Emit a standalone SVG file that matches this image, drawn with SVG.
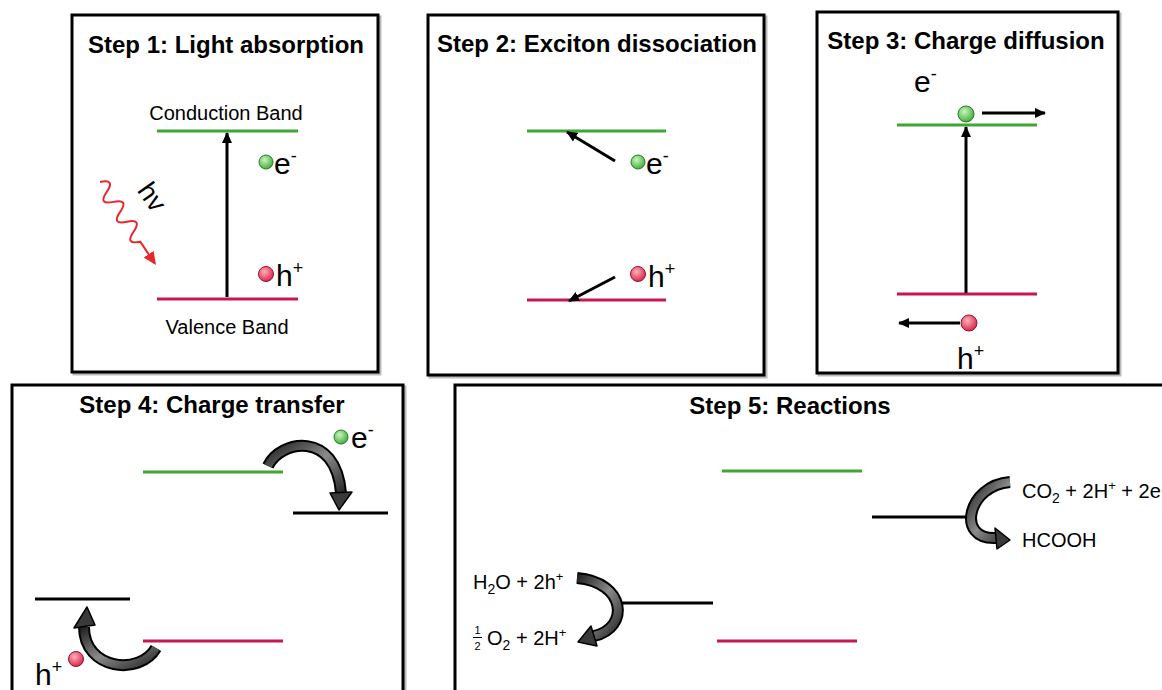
<svg xmlns="http://www.w3.org/2000/svg" width="1162" height="690" viewBox="0 0 1162 690">
<defs>
<style>
.box{fill:#fff;stroke:#000;stroke-width:3}
.shadow{fill:none;stroke:#bbb;stroke-width:3}
.title{font-family:"Liberation Sans",Arial,sans-serif;font-weight:bold;font-size:24px;fill:#000;text-anchor:middle}
.lbl{font-family:"Liberation Sans",Arial,sans-serif;font-size:20px;fill:#000}
.big{font-family:"Liberation Sans",Arial,sans-serif;font-size:30px;fill:#000}
.cb{stroke:#3fa535;stroke-width:3}
.vb{stroke:#c8174f;stroke-width:3}
.lv{stroke:#000;stroke-width:3}
.arr{stroke:#000;stroke-width:3;fill:none}
.fatO{fill:none;stroke:#000;stroke-width:12}
.fatI{fill:none;stroke:url(#fg);stroke-width:8}
.head{fill:#3a3a3a;stroke:#000;stroke-width:1.5;stroke-linejoin:round}
</style>
<radialGradient id="gg" cx="0.4" cy="0.35" r="0.7">
<stop offset="0" stop-color="#c9f7b8"/><stop offset="1" stop-color="#3aa83a"/>
</radialGradient>
<radialGradient id="rg" cx="0.4" cy="0.35" r="0.7">
<stop offset="0" stop-color="#ffb0b8"/><stop offset="1" stop-color="#d41f45"/>
</radialGradient>
<linearGradient id="fg" x1="0" y1="0" x2="1" y2="1">
<stop offset="0" stop-color="#222"/><stop offset="0.5" stop-color="#8a8a8a"/><stop offset="1" stop-color="#2a2a2a"/>
</linearGradient>
<marker id="ah" markerWidth="12" markerHeight="12" refX="10" refY="6" orient="auto" markerUnits="userSpaceOnUse">
<path d="M0,1 L11,6 L0,11 Z" fill="#000"/>
</marker>
<marker id="ahr" markerWidth="14" markerHeight="14" refX="11" refY="7" orient="auto" markerUnits="userSpaceOnUse">
<path d="M0,1 L13,7 L0,13 Z" fill="#e8262b"/>
</marker>
</defs>
<rect width="1162" height="690" fill="#fff"/>

<g id="panel1">
<rect class="shadow" x="74" y="17" width="306" height="357"/>
<rect class="box" x="72" y="15" width="306" height="357"/>
<text class="title" x="226" y="53">Step 1: Light absorption</text>
<text class="lbl" x="226" y="120" text-anchor="middle">Conduction Band</text>
<line class="cb" x1="157" y1="131" x2="298" y2="131"/>
<line class="vb" x1="157" y1="299" x2="298" y2="299"/>
<text class="lbl" x="227" y="334" text-anchor="middle">Valence Band</text>
<circle cx="266" cy="162" r="7" fill="url(#gg)" stroke="#2a7a2a" stroke-width="1"/>
<text class="big" x="274" y="174">e<tspan font-size="18" dy="-12">-</tspan></text>
<circle cx="266" cy="274" r="7.5" fill="url(#rg)" stroke="#9a1030" stroke-width="1"/>
<text class="big" x="276" y="286">h<tspan font-size="18" dy="-12">+</tspan></text>
<text class="lbl" x="152" y="206" text-anchor="middle" style="font-size:27px" transform="rotate(55 152 197)">hv</text>
</g>

<g id="panel2">
<rect class="shadow" x="430" y="17" width="336" height="360"/>
<rect class="box" x="428" y="15" width="336" height="360"/>
<text class="title" x="597" y="52">Step 2: Exciton dissociation</text>
<line class="cb" x1="527" y1="131" x2="666" y2="131"/>
<line class="vb" x1="527" y1="300" x2="666" y2="300"/>
<circle cx="638" cy="162" r="7" fill="url(#gg)" stroke="#2a7a2a" stroke-width="1"/>
<text class="big" x="646" y="174">e<tspan font-size="18" dy="-12">-</tspan></text>
<circle cx="638" cy="274" r="7.5" fill="url(#rg)" stroke="#9a1030" stroke-width="1"/>
<text class="big" x="648" y="287">h<tspan font-size="18" dy="-12">+</tspan></text>
</g>

<g id="panel3">
<rect class="shadow" x="819" y="14" width="301" height="361"/>
<rect class="box" x="817" y="12" width="301" height="361"/>
<text class="title" x="966" y="49">Step 3: Charge diffusion</text>
<text class="big" x="914" y="92">e<tspan font-size="18" dy="-12">-</tspan></text>
<line class="cb" x1="897" y1="125" x2="1037" y2="125"/>
<line class="vb" x1="897" y1="294" x2="1037" y2="294"/>
<circle cx="966" cy="114" r="8" fill="url(#gg)" stroke="#2a7a2a" stroke-width="1"/>
<circle cx="969" cy="323" r="8" fill="url(#rg)" stroke="#9a1030" stroke-width="1"/>
<text class="big" x="957" y="369">h<tspan font-size="18" dy="-12">+</tspan></text>
</g>

<g id="panel4">
<rect class="shadow" x="14" y="387" width="391" height="320"/>
<rect class="box" x="12" y="385" width="391" height="320"/>
<text class="title" x="212" y="413">Step 4: Charge transfer</text>
<line class="cb" x1="143" y1="472" x2="283" y2="472"/>
<line class="lv" x1="293" y1="513" x2="388" y2="513"/>
<line class="lv" x1="35" y1="599" x2="130" y2="599"/>
<line class="vb" x1="143" y1="641" x2="283" y2="641"/>
<circle cx="341" cy="437" r="7" fill="url(#gg)" stroke="#2a7a2a" stroke-width="1"/>
<text class="big" x="351" y="448">e<tspan font-size="18" dy="-12">-</tspan></text>
<circle cx="76" cy="659" r="7.5" fill="url(#rg)" stroke="#9a1030" stroke-width="1"/>
<text class="big" x="35" y="685">h<tspan font-size="18" dy="-12">+</tspan></text>
</g>

<g id="panel5">
<rect class="shadow" x="457" y="387" width="720" height="320"/>
<rect class="box" x="455" y="385" width="720" height="320"/>
<text class="title" x="790" y="414">Step 5: Reactions</text>
<line class="cb" x1="722" y1="471" x2="862" y2="471"/>
<line class="lv" x1="872" y1="517" x2="967" y2="517"/>
<line class="lv" x1="618" y1="603" x2="713" y2="603"/>
<line class="vb" x1="717" y1="641" x2="857" y2="641"/>
<text class="lbl" x="1022" y="498">CO<tspan font-size="14" dy="5">2</tspan><tspan dy="-5"> + 2H</tspan><tspan font-size="13" dy="-8">+</tspan><tspan dy="8"> + 2e</tspan></text>
<text class="lbl" x="1022" y="547">HCOOH</text>
<text class="lbl" x="473" y="589">H<tspan font-size="14" dy="5">2</tspan><tspan dy="-5">O + 2h</tspan><tspan font-size="13" dy="-8">+</tspan></text>
<text class="lbl" x="477.5" y="634" text-anchor="middle" style="font-size:11px">1</text>
<line x1="473" y1="637.5" x2="482" y2="637.5" stroke="#000" stroke-width="1"/>
<text class="lbl" x="477.5" y="650" text-anchor="middle" style="font-size:11px">2</text>
<text class="lbl" x="487" y="645">O<tspan font-size="14" dy="5">2</tspan><tspan dy="-5"> + 2H</tspan><tspan font-size="13" dy="-8">+</tspan></text>
</g>

<g id="connectors">
<line class="arr" x1="227" y1="297" x2="227" y2="133" marker-end="url(#ah)"/>
<path d="M0,0 q6,-15 12,0 t12,0 t12,0 t12,0 t12,0 t12,0 L98,0" fill="none" stroke="#e8262b" stroke-width="2" marker-end="url(#ahr)" transform="translate(100,182) rotate(56)"/>
<line class="arr" x1="615" y1="161" x2="567" y2="132" marker-end="url(#ah)"/>
<line class="arr" x1="615" y1="277" x2="569" y2="301" marker-end="url(#ah)"/>
<line class="arr" x1="982" y1="113" x2="1045" y2="113" marker-end="url(#ah)"/>
<line class="arr" x1="966" y1="293" x2="966" y2="127" marker-end="url(#ah)"/>
<line class="arr" x1="960" y1="323" x2="899" y2="323" marker-end="url(#ah)"/>

<path class="fatO" d="M268,466 C280,440 336,430 341,493"/>
<path class="fatI" d="M268,466 C280,440 336,430 341,493"/>
<polygon class="head" points="330,493 352,492 339,510"/>

<path class="fatO" d="M156,648 C140,676 84,670 84,627"/>
<path class="fatI" d="M156,648 C140,676 84,670 84,627"/>
<polygon class="head" points="74,628 95,625 87,607"/>

<path class="fatO" d="M577,578 C626,582 630,628 594,636"/>
<path class="fatI" d="M577,578 C626,582 630,628 594,636"/>
<polygon class="head" points="591,626 597,646 578,642"/>

<path class="fatO" d="M1010,482 C968,485 955,540 996,538"/>
<path class="fatI" d="M1010,482 C968,485 955,540 996,538"/>
<polygon class="head" points="995,528 997,549 1010,540"/>
</g>
</svg>
